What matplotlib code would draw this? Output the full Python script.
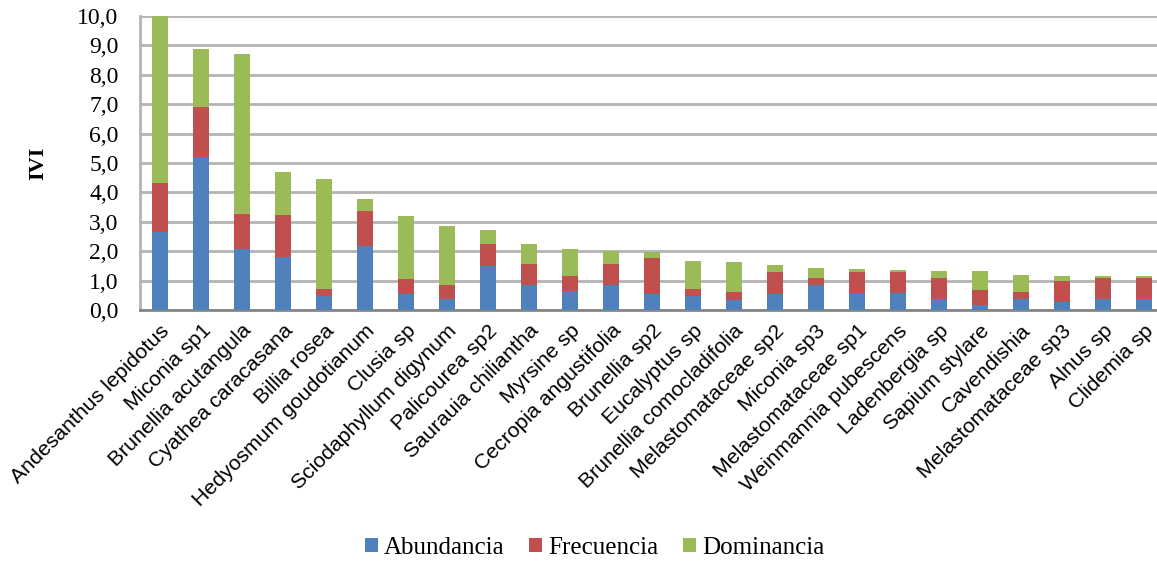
import matplotlib.pyplot as plt
import numpy as np
from matplotlib.ticker import FuncFormatter

especies = ['Andesanthus lepidotus', 'Miconia sp1', 'Brunellia acutangula', 'Cyathea caracasana',
            'Billia rosea', 'Hedyosmum goudotianum', 'Clusia sp', 'Sciodaphyllum digynum',
            'Palicourea sp2', 'Saurauia chiliantha', 'Myrsine sp', 'Cecropia angustifolia',
            'Brunellia sp2', 'Eucalyptus sp', 'Brunellia comocladifolia', 'Melastomataceae sp2',
            'Miconia sp3', 'Melastomataceae sp1', 'Weinmannia pubescens', 'Ladenbergia sp',
            'Sapium stylare', 'Cavendishia', 'Melastomataceae sp3', 'Alnus sp', 'Clidemia sp']

abundancia = [2.66, 5.22, 2.08, 1.80, 0.48, 2.18, 0.56, 0.36, 1.50, 0.84, 0.65, 0.84, 0.56,
              0.48, 0.35, 0.56, 0.86, 0.57, 0.57, 0.37, 0.18, 0.37, 0.28, 0.37, 0.37]
frecuencia = [1.67, 1.68, 1.18, 1.43, 0.22, 1.18, 0.49, 0.48, 0.73, 0.72, 0.50, 0.72, 1.20,
              0.22, 0.25, 0.72, 0.23, 0.73, 0.73, 0.72, 0.49, 0.24, 0.72, 0.73, 0.73]
dominancia = [5.67, 1.98, 5.44, 1.46, 3.77, 0.42, 2.14, 2.02, 0.49, 0.68, 0.92, 0.46, 0.21,
              0.98, 1.04, 0.24, 0.34, 0.11, 0.07, 0.23, 0.64, 0.59, 0.15, 0.05, 0.04]

azul, rojo, verde = '#4F81BD', '#C0504D', '#9BBB59'

fig = plt.figure(figsize=(11.57, 5.62), dpi=100)
W, H = 1157, 562
ax = fig.add_axes([139.5 / W, 1 - 310 / H, 1025 / W, 294 / H])

x = np.arange(len(especies))
ab = np.array(abundancia)
fr = np.array(frecuencia)
do = np.array(dominancia)
ancho = 0.39
ax.bar(x, ab, ancho, color=azul, label='Abundancia', zorder=3)
ax.bar(x, fr, ancho, bottom=ab, color=rojo, label='Frecuencia', zorder=3)
ax.bar(x, do, ancho, bottom=ab + fr, color=verde, label='Dominancia', zorder=3)

ax.set_xlim(-0.5, len(especies) - 0.5)
ax.set_ylim(0, 10)
ax.set_yticks(np.arange(0, 11, 1))
ax.yaxis.set_major_formatter(FuncFormatter(lambda v, p: f'{v:.1f}'.replace('.', ',')))
ax.grid(axis='y', color='#B3B3B3', linewidth=2, zorder=0)

for s in ['top', 'right']:
    ax.spines[s].set_visible(False)
ax.spines['left'].set_color('#B3B3B3')
ax.spines['left'].set_linewidth(2)
ax.spines['bottom'].set_color('#868686')
ax.spines['bottom'].set_linewidth(2)
ax.tick_params(axis='both', length=0)
ax.tick_params(axis='y', pad=15)
ax.tick_params(axis='x', pad=8)

ax.set_xticks(x)
ax.set_xticklabels(especies, rotation=45, ha='right', rotation_mode='anchor',
                   fontsize=15.3, family='Liberation Sans')
for t in ax.get_yticklabels():
    t.set_family('Liberation Serif')
    t.set_fontsize(17)

ax.set_ylabel('IVI', fontsize=16, fontweight='bold', family='Liberation Serif', labelpad=21)

fig.legend(loc='center', bbox_to_anchor=(0.514, 1 - 548 / H), ncol=3, frameon=False,
           prop={'family': 'Liberation Serif', 'size': 18}, handlelength=0.5, handleheight=0.5,
           handletextpad=0.25, columnspacing=1.0)

fig.savefig('out.png', dpi=100)
